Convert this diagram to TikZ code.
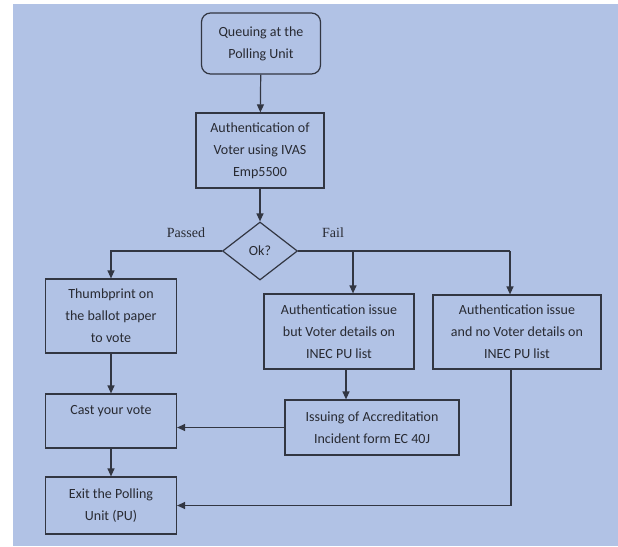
\documentclass[tikz,border=0pt]{standalone}
\usepackage{fontspec}
\setmainfont{Carlito}
\newfontfamily\labelfont{Liberation Serif}
\usepackage{xcolor}
\usetikzlibrary{arrows.meta, shapes.geometric}

\definecolor{bgblue}{RGB}{177,194,229}
\definecolor{linegray}{RGB}{50,54,66}
\definecolor{textgray}{RGB}{40,42,50}

\begin{document}
\begin{tikzpicture}[
    x=1pt, y=-1pt,
    font=\fontsize{14}{22}\selectfont,
    box/.style={rectangle, draw=linegray, line width=1.2pt, align=center, inner sep=0pt, text=textgray},
    startbox/.style={box, rounded corners=9pt},
    decision/.style={diamond, draw=linegray, line width=1.2pt, inner sep=0pt, minimum width=75pt, minimum height=58pt, text=textgray},
    branch/.style={font=\labelfont\fontsize{14}{16}\selectfont, text=textgray},
    arrow/.style={-{Triangle[width=7pt,length=8pt]}, draw=linegray, line width=1.2pt},
    link/.style={draw=linegray, line width=1.2pt}
]

\useasboundingbox (0,0) rectangle (618,546);
\fill[white] (0,0) rectangle (618,546);
\fill[bgblue] (13,4) rectangle (618,546);

\node[startbox, minimum width=119pt, minimum height=61pt] (queue) at (261,43.5) {Queuing at the\\Polling Unit};
\node[box, minimum width=128pt, minimum height=75pt] (auth) at (260,150.5) {Authentication of\\Voter using IVAS\\Emp5500};
\node[decision] (ok) at (260,251) {Ok?};
\node[branch] (passed) at (186,233) {Passed};
\node[branch] (fail) at (333,233) {Fail};

\node[box, minimum width=131pt, minimum height=74pt] (thumb) at (111,316) {Thumbprint on\\the ballot paper\\to vote};
\node[box, minimum width=131pt, minimum height=54pt] (cast) at (111,421) {Cast your vote\\\mbox{}};
\node[box, minimum width=131pt, minimum height=57pt] (exit) at (111,505.5) {Exit the Polling\\Unit (PU)};

\node[box, minimum width=150pt, minimum height=75pt] (detailsyes) at (339,331.5) {Authentication issue\\but Voter details on\\INEC PU list};
\node[box, minimum width=168pt, minimum height=74pt] (detailsno) at (517,332) {Authentication issue\\and no Voter details on\\INEC PU list};
\node[box, minimum width=174pt, minimum height=55pt] (incident) at (372,427.5) {Issuing of Accreditation\\Incident form EC 40J};

\coordinate (failmid) at (353,251);
\coordinate (failend) at (510,251);

\draw[arrow] (queue) -- (auth);
\draw[arrow] (auth) -- (ok);
\draw[arrow] (ok.west) -| (thumb.north);
\draw[link] (ok.east) -- (failend);
\draw[arrow] (failmid) -- (failmid |- detailsyes.north);
\draw[arrow] (failend) -- (failend |- detailsno.north);
\draw[arrow] (thumb) -- (cast);
\draw[arrow] (cast) -- (exit);
\draw[arrow] ([xshift=7pt]detailsyes.south) -- ([xshift=7pt]detailsyes.south |- incident.north);
\draw[arrow] (incident.west) -- (incident.west -| cast.east);
\draw[arrow] ([xshift=-6pt]detailsno.south) |- (exit.east);

\end{tikzpicture}
\end{document}
